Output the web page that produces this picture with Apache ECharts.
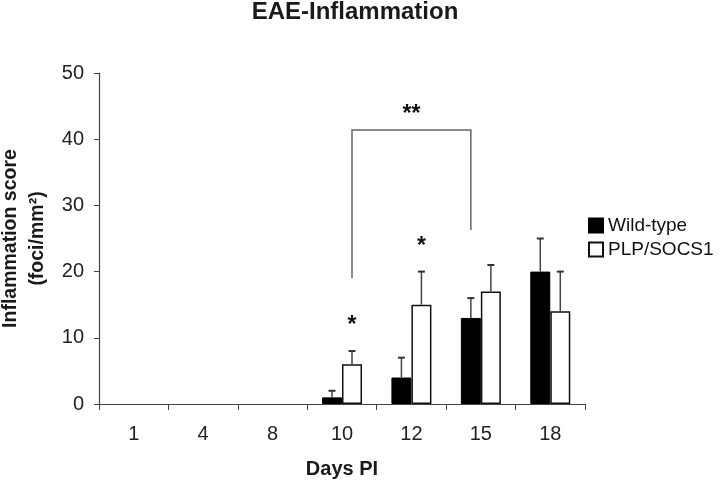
<!DOCTYPE html>
<html><head><meta charset="utf-8">
<script src="https://cdn.jsdelivr.net/npm/echarts@6/dist/echarts.min.js"></script>
<style>html,body{margin:0;padding:0;background:#fff}#c{width:720px;height:481px}</style>
</head><body><div id="c"></div>
<script>
const categories = ['1', '4', '8', '10', '12', '15', '18'];
const wildType = [0, 0, 0, 1, 4, 13, 20];
const plpSocs1 = [0, 0, 0, 6, 15, 17, 14];
const wildTypeErr = [0, 0, 0, 1, 3, 3, 5];
const plpSocs1Err = [0, 0, 0, 2, 5, 4, 6];
// significance markers: [categoryIndex, side(-1 WT, 1 PLP), y value, text]
const stars = [[3, 1, 11.8, '*'], [4, 1, 23.7, '*']];
// bracket: [leftCat, leftSide, leftBottom, rightCat, rightSide, rightBottom, top, label]
const bracket = [[3, 1, 19, 5, -1, 26.3, 41.4, '**']];

const HALF = 10;
const FONT = 'Liberation Sans';
const chart = echarts.init(document.getElementById('c'));

function barData(values) {
  return values.map(v => v === 0 ? {value: 0, itemStyle: {borderWidth: 0, color: 'rgba(0,0,0,0)'}} : v);
}

function errItem(values, errs, side) {
  return function (params, api) {
    const i = api.value(0);
    const v = values[i], e = errs[i];
    if (!e) return null;
    const p0 = api.coord([i, v]);
    const p1 = api.coord([i, v + e]);
    const x = p0[0] + side * HALF;
    return {
      type: 'group',
      children: [
        {type: 'line', shape: {x1: x, y1: p0[1], x2: x, y2: p1[1]}, style: {stroke: '#444', lineWidth: 1.5}},
        {type: 'line', shape: {x1: x - 3.5, y1: p1[1], x2: x + 3.5, y2: p1[1]}, style: {stroke: '#333', lineWidth: 2}}
      ]
    };
  };
}

chart.setOption({
  animation: false,
  title: {
    text: 'EAE-Inflammation', left: 355, top: 0, padding: 0, textAlign: 'center',
    textStyle: {fontFamily: FONT, fontSize: 24, fontWeight: 'bold', color: '#1a1a1a'}
  },
  legend: {
    orient: 'vertical', left: 588, top: 216, padding: 0, itemWidth: 14, itemHeight: 14, itemGap: 5,
    icon: 'rect',
    data: ['Wild-type', 'PLP/SOCS1'],
    textStyle: {fontFamily: FONT, fontSize: 19, color: '#111'}
  },
  grid: {left: 99, right: 135, top: 73, bottom: 77, outerBoundsMode: 'none', containLabel: false},
  xAxis: {
    type: 'category', data: categories, boundaryGap: true,
    axisLine: {lineStyle: {color: '#444', width: 1.2}},
    axisTick: {show: true, length: 6, lineStyle: {color: '#444'}},
    axisLabel: {fontFamily: FONT, fontSize: 20, color: '#222', margin: 20},
    name: 'Days PI', nameLocation: 'middle', nameGap: 55,
    nameTextStyle: {fontFamily: FONT, fontSize: 20, fontWeight: 'bold', color: '#1a1a1a'}
  },
  yAxis: {
    type: 'value', min: 0, max: 50, interval: 10,
    splitLine: {show: false},
    axisLine: {show: true, lineStyle: {color: '#444', width: 1.2}},
    axisTick: {show: true, length: 5, lineStyle: {color: '#444'}},
    axisLabel: {fontFamily: FONT, fontSize: 20, color: '#222', margin: 15},
    name: 'Inflammation score\n(foci/mm²)', nameLocation: 'middle', nameGap: 47, nameRotate: 90,
    nameTextStyle: {fontFamily: FONT, fontSize: 19.5, fontWeight: 'bold', color: '#1a1a1a', lineHeight: 27}
  },
  series: [
    {name: 'Wild-type', type: 'bar', data: barData(wildType), barWidth: 20, barGap: '0%',
      itemStyle: {color: '#000', borderColor: '#000', borderWidth: 1}},
    {name: 'PLP/SOCS1', type: 'bar', data: barData(plpSocs1), barWidth: 20, barGap: '0%',
      itemStyle: {color: '#fff', borderColor: '#111', borderWidth: 1.5}},
    {type: 'custom', data: categories.map((c, i) => [i]), renderItem: errItem(wildType, wildTypeErr, -1), z: 5},
    {type: 'custom', data: categories.map((c, i) => [i]), renderItem: errItem(plpSocs1, plpSocs1Err, 1), z: 5},
    {type: 'custom', data: stars, z: 6, renderItem: function (params, api) {
      const p = api.coord([api.value(0), api.value(2)]);
      return {type: 'text', x: p[0] + api.value(1) * HALF, y: p[1],
        style: {text: stars[params.dataIndex][3], fontFamily: FONT, fontSize: 23, fontWeight: 'bold',
          fill: '#111', align: 'center', verticalAlign: 'middle'}};
    }},
    {type: 'custom', data: bracket, z: 6, renderItem: function (params, api) {
      const b = bracket[params.dataIndex];
      const l0 = api.coord([b[0], b[2]]), lt = api.coord([b[0], b[6]]);
      const r0 = api.coord([b[3], b[5]]);
      const xl = l0[0] + b[1] * HALF, xr = r0[0] + b[4] * HALF;
      return {type: 'group', children: [
        {type: 'polyline', shape: {points: [[xl, l0[1]], [xl, lt[1]], [xr, lt[1]], [xr, r0[1]]]},
          style: {stroke: '#666', lineWidth: 1.5, fill: null}},
        {type: 'text', x: (xl + xr) / 2, y: lt[1] - 15,
          style: {text: b[7], fontFamily: FONT, fontSize: 23, fontWeight: 'bold', fill: '#111',
            align: 'center', verticalAlign: 'middle'}}
      ]};
    }}
  ]
});
</script></body></html>
